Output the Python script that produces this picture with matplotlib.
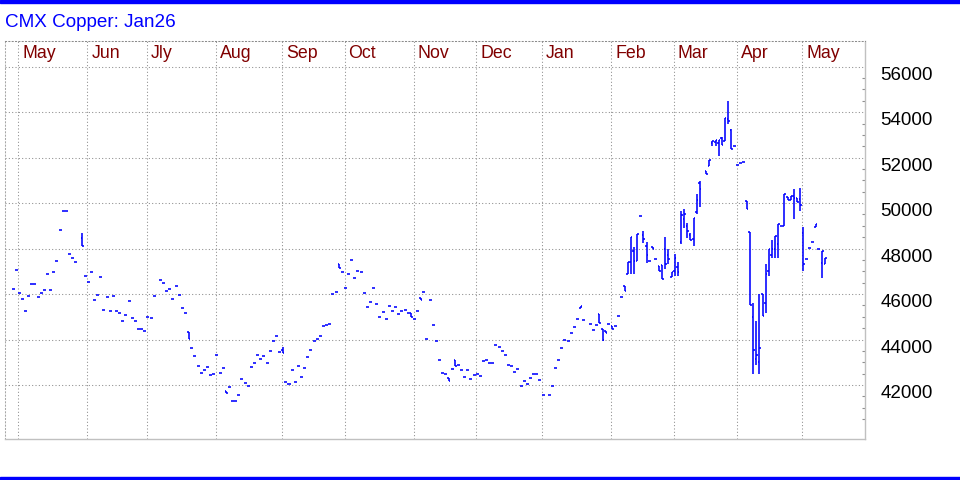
import matplotlib
matplotlib.use('Agg')
import matplotlib.pyplot as plt
import matplotlib.transforms as mtransforms
from matplotlib.collections import LineCollection
from matplotlib.patches import Rectangle
import numpy as np

plt.rcParams['font.family'] = ['Liberation Sans', 'DejaVu Sans']

months = ['May', 'Jun', 'Jly', 'Aug', 'Sep', 'Oct', 'Nov', 'Dec', 'Jan', 'Feb', 'Mar', 'Apr', 'May']
month_start = [0, 22, 41, 63, 84, 104, 126, 146, 167, 189, 209, 229, 250]
price_ticks = [42000, 44000, 46000, 48000, 50000, 52000, 54000, 56000]

# session index of every printed bar (0 = first May session)
days = (list(range(-2, 19)) + list(range(20, 44)) + list(range(45, 168))
        + list(range(169, 181)) + list(range(182, 218)) + list(range(219, 258)))

close = [
    46230, 47080, 46050, 45790, 45260, 45930, 46450, 46450, 45880, 46050, 46190,
    46890, 46190, 46980, 47460, 48830, 49660, 49660, 47770, 47590, 47420,
    48100, 46800, 46540, 46980, 45750, 45970, 46760, 45310, 45880, 45260, 45920, 45260,
    45170, 44820, 45090, 45700, 44950, 44820, 44470, 44470, 44380, 45000, 44960, 45920,
    46630, 46490, 46140, 46230, 45790, 46360, 45970, 45390, 45170,
    44030, 43640, 43280, 42840, 42540, 42670, 42800, 42450, 42490,
    43330, 42540, 42760, 41640, 41920, 41310, 41310, 41570, 42270, 42100, 41970,
    42800, 42980, 43330, 43150, 43280, 42980, 43500, 43940, 44160, 43460,
    43420, 42120, 42040, 42670, 42120, 42840, 42360, 42760, 43240, 43550,
    43940, 44010, 44160, 44600, 44650, 44690, 46010, 46100, 47150, 46960,
    46270, 46890, 47500, 46710, 47020, 46980, 46050, 45440, 45660, 46270,
    45570, 45000, 45220, 44910, 45480, 45260, 45440, 45130, 45260, 45310, 45170, 45000,
    44910, 45260, 45750, 46100, 44030, 45750, 44650, 43940, 43110, 42540,
    42490, 42180, 42710, 42840, 42890, 42670, 42360, 42670, 42270, 42450,
    42490, 42400, 43060, 43110, 42980, 42980, 43770, 43680, 43500, 43330,
    42890, 42840, 42580, 42710, 41970, 42180, 42050, 42320, 42490, 42490, 42230, 41570,
    41570, 41970, 42760, 43110, 43640, 43990, 43940, 44300, 44560, 44910, 45480, 44870,
    44690, 44430, 44650, 44730, 43990, 44280, 44670, 44450,
    44600, 45040, 45880, 46140, 47420, 48520, 47460, 48620, 49440, 48430,
    47700, 47460, 47990, 47550, 47020, 46670, 47330, 47550, 46980, 47590,
    46980, 49460, 49530, 48780, 48370, 49330, 50150, 50630,
    51280, 51910, 52720, 52780, 52780, 52570, 53740, 53630, 52380, 52530,
    51690, 51780, 51820, 49740, 45540, 43520, 43340, 43620, 45030, 46890,
    47990, 47990, 48570, 49090, 48980, 50400, 50140, 50330, 50210, 50070,
    49920, 47330, 47550, 48030, 48310, 49090, 47990, 47910, 47600,
]

# sessions that traded a range: open / high / low
bar_day = [20, 54, 66, 84, 102, 125, 128, 137, 139, 179, 185, 186, 187, 189,
           193, 194, 195, 196, 197, 199, 200, 202, 204, 205, 206, 207, 208, 209,
           210, 211, 212, 213, 214, 215, 216, 217, 219, 220, 221, 222, 223, 224,
           225, 226, 227, 232, 233, 234, 235, 236, 237, 238, 239, 240, 241, 242,
           244, 245, 246, 247, 248, 249, 250, 254, 256, 257]
bar_open = [48470, 44310, 41740, 43550, 47330, 45170, 45830, 42320, 43110, 45390, 45130, 44470, 44380, 44600,
            46360, 46890, 47420, 47900, 47460, 48600, 48100, 48090, 47240, 47280, 48000, 47700, 46760, 47000,
            47200, 48300, 49300, 49000, 48600, 48400, 49600, 50890, 51430, 51630, 52650, 52700, 52650, 52850,
            52750, 53700, 53200, 50110, 48750, 45000, 43150, 43000, 46010, 45600, 47000, 47700, 48000, 48200,
            49010, 50260, 50140, 50300, 50210, 50200, 48700, 48970, 47370, 47300]
bar_high = [48670, 44310, 41740, 43680, 47330, 45170, 45830, 42320, 43110, 45480, 45130, 44470, 44380, 44600,
            46360, 47420, 48520, 48050, 48620, 48790, 48300, 48090, 47240, 47280, 48520, 47990, 46980, 47770,
            47420, 49670, 49750, 49130, 48690, 49330, 50400, 50980, 51430, 51910, 52720, 52780, 52780, 52920,
            53740, 54510, 53270, 50110, 48750, 45600, 44800, 46010, 46010, 47310, 47990, 48390, 48570, 49090,
            50400, 50260, 50330, 50620, 50210, 50670, 48940, 49090, 47910, 47600]
bar_low = [48100, 44030, 41640, 43420, 47150, 45000, 45750, 42180, 42840, 45390, 44730, 43940, 44280, 44450,
           46140, 46890, 46890, 46890, 47460, 48230, 47360, 47990, 47020, 46670, 47110, 47330, 46760, 46800,
           46800, 48180, 48910, 48470, 48370, 48100, 49500, 49810, 51280, 51630, 52530, 52530, 52090, 52570,
           52720, 53490, 52380, 49740, 45540, 42490, 42860, 42490, 45030, 45160, 46800, 47570, 47580, 47580,
           49010, 50140, 50140, 49310, 50070, 49670, 47010, 48970, 46710, 47300]

W, H = 960, 480
fig = plt.figure(figsize=(W / 100, H / 100), dpi=100)
ax = fig.add_axes([5 / W, 41 / H, 860 / W, 398.5 / H])

ranges = {d: (o, h, l) for d, o, h, l in zip(bar_day, bar_open, bar_high, bar_low)}
tick = 0.48
segs = []
for d, c in zip(days, close):
    o, h, l = ranges.get(d, (c, c, c))
    if h > l:
        segs.append([(d, l), (d, h)])
    segs.append([(d - tick, o), (d, o)])
    segs.append([(d, c), (d + tick, c)])
ax.add_collection(LineCollection(segs, colors='#0000ff', linewidths=1.15))

ax.set_xlim(-4.56, 269.67)
ax.set_ylim(39625, 57152)

grid_x = [s - 0.3 for s in month_start]
ax.set_xticks(grid_x)
ax.tick_params(axis='x', length=0, labelbottom=False)
ax.set_yticks(price_ticks)
ax.set_yticklabels([str(v) for v in price_ticks])
ax.set_yticks(np.arange(40500, 56000, 500), minor=True)
ax.yaxis.tick_right()
ax.tick_params(axis='y', which='major', length=0, pad=11, labelsize=13.5, labelcolor='black')
ax.tick_params(axis='y', which='minor', direction='in', length=2.5, width=0.8,
               color='#909090', left=False, right=True)
for lbl in ax.get_yticklabels():
    lbl.set_verticalalignment('top')
ax.grid(True, which='major', color='#8c8c8c', linewidth=0.75, linestyle=(0, (1, 2.2)))
ax.set_axisbelow(True)

for side in ['top', 'left']:
    ax.spines[side].set_linestyle((0, (1, 2.2)))
    ax.spines[side].set_linewidth(0.75)
ax.spines['top'].set_color('#8c8c8c')
ax.spines['left'].set_color('#a8a8a8')
for side in ['right', 'bottom']:
    ax.spines[side].set_color('#c0c0c0')
    ax.spines[side].set_linewidth(1.0)

trans = mtransforms.blended_transform_factory(ax.transData, ax.transAxes)
trans = mtransforms.offset_copy(trans, fig=fig, x=4, y=0, units='dots')
for g, m in zip(grid_x, months):
    ax.text(g, 0.9553, m, transform=trans, color='#800000', fontsize=12.8,
            ha='left', va='baseline')

fig.text(5 / W, 1 - 27.3 / H, 'CMX Copper: Jan26', color='#0000ff', fontsize=13.6,
         ha='left', va='baseline')

fig.patches.append(Rectangle((0, 1 - 3 / H), 1, 3 / H, transform=fig.transFigure,
                             color='#0000ff', zorder=0))
fig.patches.append(Rectangle((0, 0), 1, 3.3 / H, transform=fig.transFigure,
                             color='#0000ff', zorder=0))

fig.savefig('out.png', dpi=100)
